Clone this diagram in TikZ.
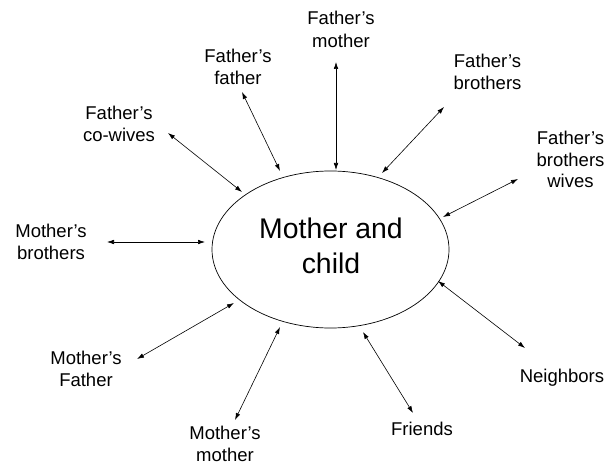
\documentclass[tikz,border=0pt]{standalone}
\usepackage{fontspec}
\setmainfont{Liberation Sans}
\usetikzlibrary{positioning,shapes.geometric,arrows.meta}

\begin{document}
\begin{tikzpicture}[x=1pt,y=-1pt]
        \tikzstyle{hub}=[draw, ellipse, line width=.7pt, inner sep=0pt, minimum width=237pt, minimum height=157pt];
        \tikzstyle{kin}=[align=center, inner sep=0pt, font=\fontsize{18.5}{22.5}\selectfont];
        \tikzstyle{tie}=[line width=.6pt, {Latex[length=7pt,width=4.6pt]}-{Latex[length=7pt,width=4.6pt]}];
        \useasboundingbox (0,0) rectangle (605,465);
        % centre
        \node[hub] (mc) at (330.5,249.5) {};
        \node[align=center, inner sep=0pt, font=\fontsize{28.4}{35}\selectfont] (mct) at (331,245.5) {Mother and\\child};
        % relatives
        \node[kin] (fcw) at (119,123.8) {Father’s\\co-wives};
        \node[kin] (ff) at (238,66.8) {Father’s\\father};
        \node[kin] (fm) at (341,29.2) {Father’s\\mother};
        \node[kin] (fb) at (487.5,71.8) {Father’s\\brothers};
        \node[kin, font=\fontsize{18.5}{21.5}\selectfont] (fbw) at (570.5,159.5) {Father’s\\brothers\\wives};
        \node[kin] (mb) at (51,241.8) {Mother’s\\brothers};
        \node[kin] (mf) at (86,368.8) {Mother’s\\Father};
        \node[kin, font=\fontsize{18.5}{22}\selectfont] (mm) at (225,443.5) {Mother’s\\mother};
        \node[kin, anchor=base] (fr) at (422,435) {Friends};
        \node[kin, anchor=base] (nb) at (562,382) {Neighbors};
        % arrow ends
        \coordinate (fcw1) at (168,133);  \coordinate (fcw2) at (242,192);
        \coordinate (ff1) at (242,92);    \coordinate (ff2) at (280,171);
        \coordinate (fm1) at (336,62);    \coordinate (fm2) at (336,170);
        \coordinate (fb1) at (444,107);   \coordinate (fb2) at (382,173);
        \coordinate (fbw1) at (518,179);  \coordinate (fbw2) at (443,217);
        \coordinate (mb1) at (107,242);   \coordinate (mb2) at (205,242);
        \coordinate (mf1) at (137,359);   \coordinate (mf2) at (234,303);
        \coordinate (mm1) at (235,420);   \coordinate (mm2) at (280,327);
        \coordinate (fr1) at (413,413);   \coordinate (fr2) at (363,332);
        \coordinate (nb1) at (525,348);   \coordinate (nb2) at (438,281);
        \draw[tie] (fcw1) -- (fcw2);
        \draw[tie] (ff1) -- (ff2);
        \draw[tie] (fm1) -- (fm2);
        \draw[tie] (fb1) -- (fb2);
        \draw[tie] (fbw1) -- (fbw2);
        \draw[tie] (mb1) -- (mb2);
        \draw[tie] (mf1) -- (mf2);
        \draw[tie] (mm1) -- (mm2);
        \draw[tie] (fr1) -- (fr2);
        \draw[tie] (nb1) -- (nb2);
    \end{tikzpicture}
\end{document}
